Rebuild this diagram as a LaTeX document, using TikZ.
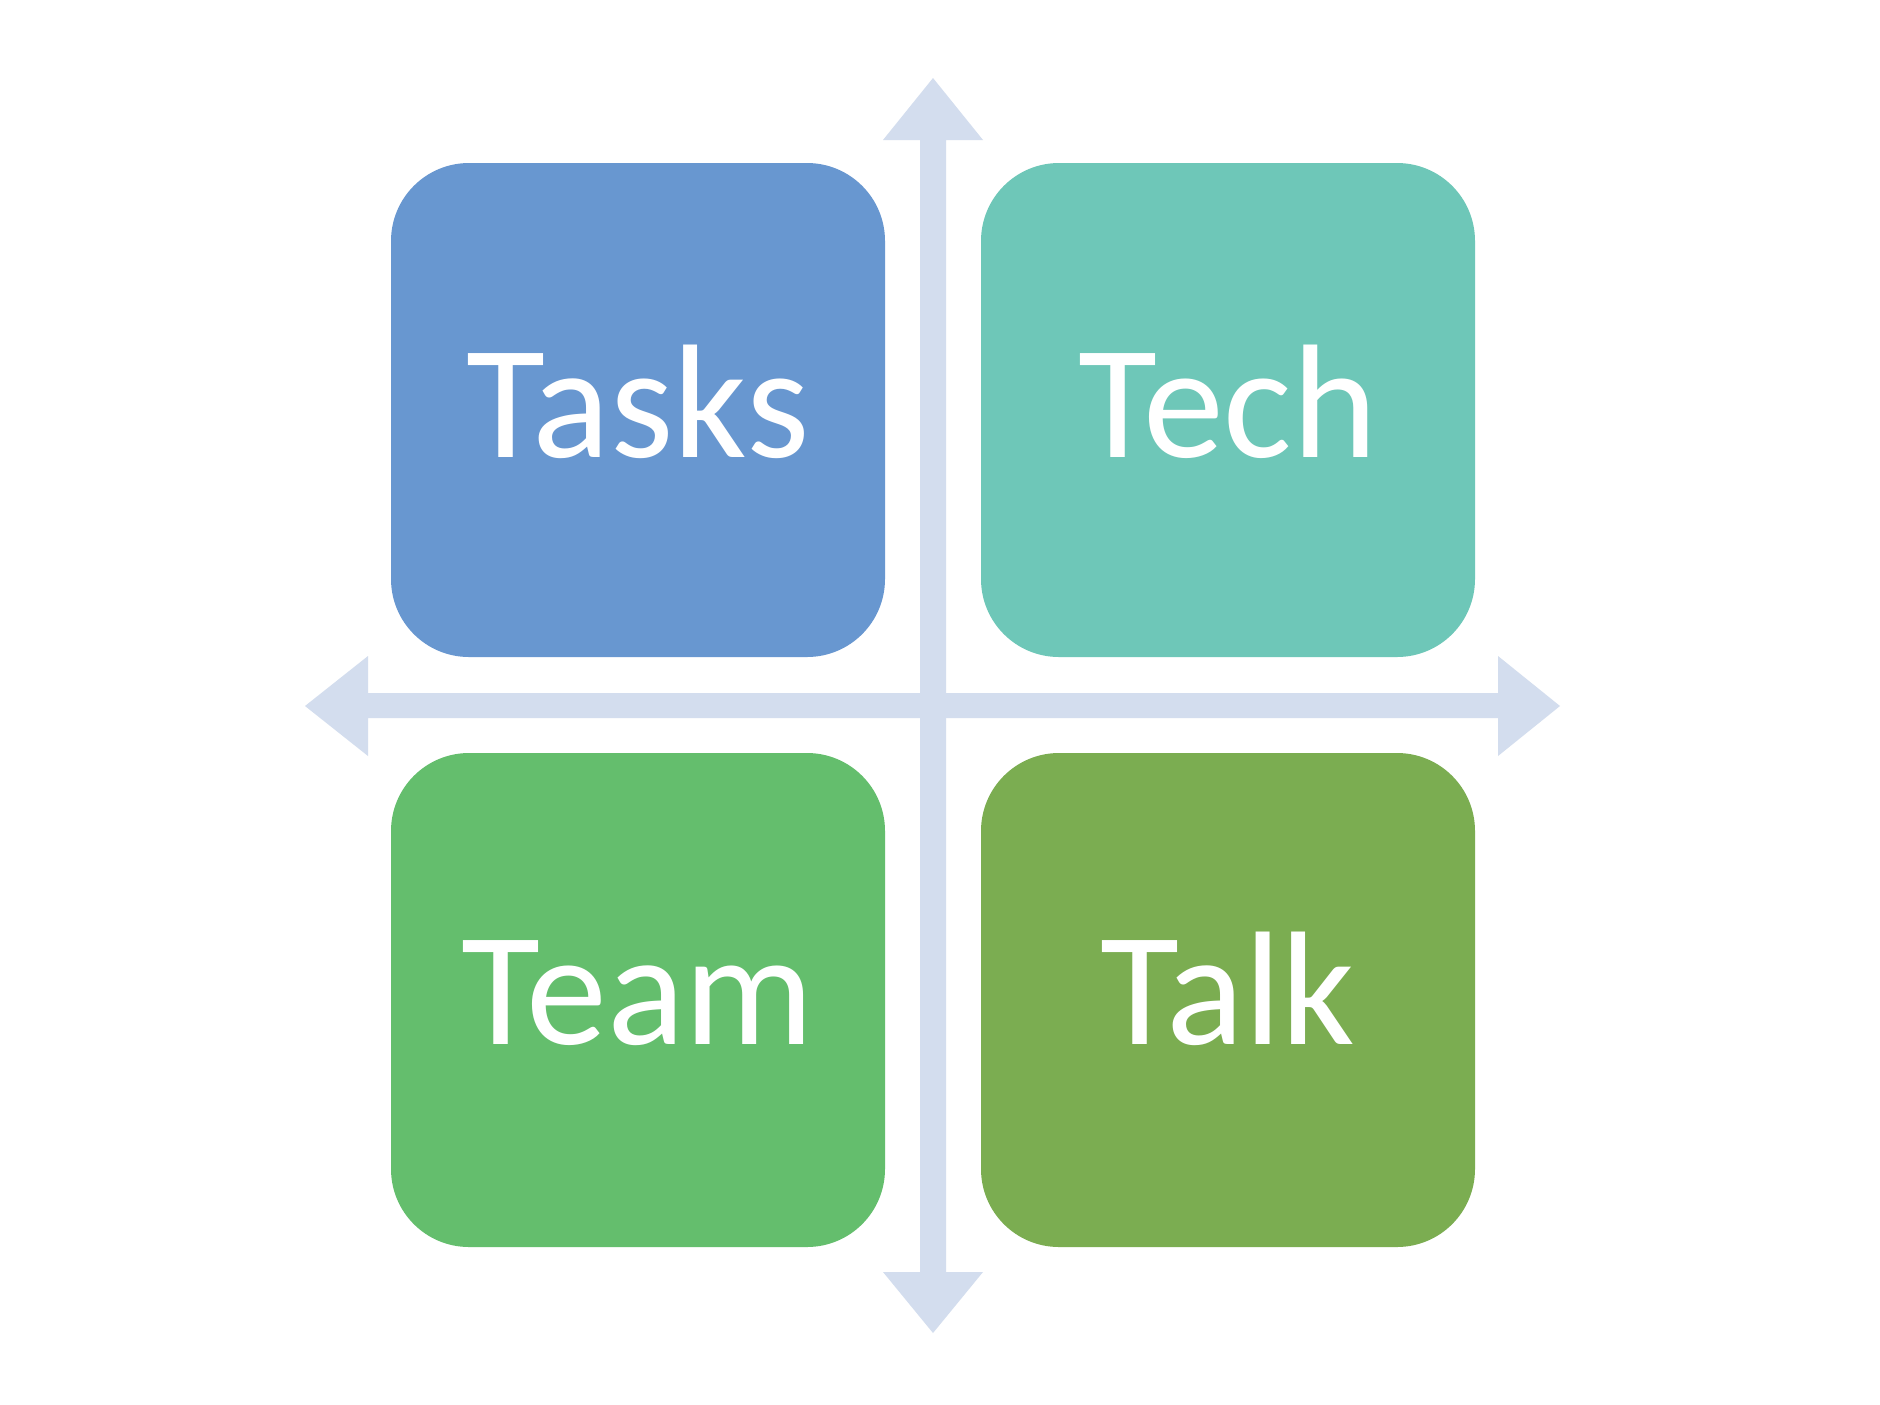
\documentclass[tikz,border=0pt]{standalone}
\usepackage{fontspec}
\setmainfont{Carlito}
\definecolor{cTasks}{HTML}{6897D0}
\definecolor{cTech}{HTML}{6EC7B8}
\definecolor{cTeam}{HTML}{64BE6D}
\definecolor{cTalk}{HTML}{7BAD51}
\definecolor{cArrow}{HTML}{D3DDEE}
\begin{document}
\begin{tikzpicture}[x=0.5pt,y=-0.5pt,
  quad/.style={rectangle, rounded corners=39pt, minimum width=247pt, minimum height=247pt, inner sep=0pt, draw=none},
  lbl/.style={anchor=base, text=white, inner sep=0pt, font=\fontsize{81}{96}\selectfont},
  axis/.style={fill=cArrow, draw=none}]
\useasboundingbox (0,0) rectangle (1880,1404);
\fill[white] (0,0) rectangle (1880,1404);
% axes
\fill[axis] (933,78) -- (983,140) -- (946,140) -- (946,1272) -- (983,1272) -- (933,1333)
  -- (883,1272) -- (920,1272) -- (920,140) -- (883,140) -- cycle;
\fill[axis] (305,706) -- (368,656) -- (368,693) -- (1498,693) -- (1498,656) -- (1560,706)
  -- (1498,756) -- (1498,718) -- (368,718) -- (368,756) -- cycle;
% quadrants
\node[quad, fill=cTasks] (tasks) at (638,410) {};
\node[quad, fill=cTech] (tech) at (1228,410) {};
\node[quad, fill=cTeam] (team) at (638,1000) {};
\node[quad, fill=cTalk] (talk) at (1228,1000) {};
\node[lbl] (tasksT) at ([yshift=-23.5pt]tasks.center) {Tasks};
\node[lbl] (techT) at ([yshift=-23.5pt]tech.center) {Tech};
\node[lbl] (teamT) at ([yshift=-22pt]team.center) {Team};
\node[lbl] (talkT) at ([yshift=-22pt]talk.center) {Talk};
\end{tikzpicture}
\end{document}
